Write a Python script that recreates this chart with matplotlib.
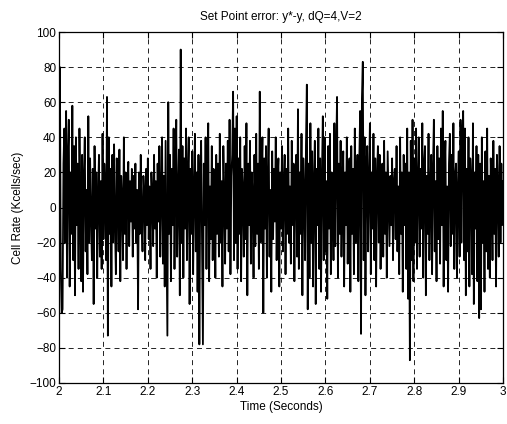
import numpy as np
import matplotlib.pyplot as plt

plt.rcParams['font.family'] = ['Liberation Sans', 'DejaVu Sans']

# set point error samples (2 ms spacing)
err = [
    12, 80, -35, -60, -58, 25, 45, -20, 55, -40, 30, 50, -45, 20, -15, 58, -30, 35, -50, 40,
    -10, 25, -35, 45, 5, -42, 30, -48, 18, 40, -25, 10, -38, 52, -20, 28, -5, -30, 22, -55,
    35, -12, 20, -40, 8, 30, -28, 15, -35, 42, -18, 25, 10, -30, 63, -73, 40, -15, 22, -45,
    30, -20, 36, -10, -38, 28, 12, -25, 33, -42, 18, 5, -30, 40, -15, 20, -35, 10, 26, -22,
    15, -8, 22, -28, 18, -12, 25, -20, 10, -58, 20, -15, 30, -5, -25, 18, 8, -30, 22, -10,
    28, -18, 12, -35, 20, 5, -22, 30, -12, 15, -40, 25, -8, 35, -28, 10, 40, -32, 18, -45,
    38, -20, -73, 60, -15, 30, -42, 22, -10, 45, -35, 15, 50, -28, 8, 33, -50, 90, -20, 35,
    -40, 28, -12, 45, -30, 18, 40, -55, 22, -15, 32, -38, 10, 42, -25, 20, -48, 30, -78, 15,
    38, -22, -78, 25, -10, 40, -35, 20, 48, -42, 12, -18, 35, -30, 22, 5, -40, 30, -15, 25,
    -28, 42, -20, 15, -45, 35, 8, -32, 25, -12, 38, -25, 50, -38, 18, 30, 66, -30, 45, -20,
    52, -35, 28, -15, 40, -42, 22, 10, -28, 35, -18, 48, -50, 25, -10, 38, -32, 20, 5, -40,
    30, -22, 42, -15, 25, -35, 66, -20, 15, 40, -60, 28, -12, 35, -40, 18, 45, -28, 10, -48,
    32, -18, 22, -8, 40, -30, 15, 28, -45, 20, -12, 35, -25, 10, 30, -38, 22, -15, 45, -20,
    12, -32, 38, -10, 25, -42, 18, 30, -28, 56, -35, 20, -15, 42, -50, 28, 8, -30, 35, 70,
    -58, 25, -40, 48, -20, 32, -45, 15, 38, -55, 22, -10, 45, -35, 28, -48, 18, 52, -30, 40,
    -25, 15, -52, 35, -12, 42, -38, 20, 8, -30, 48, -22, 30, 63, -40, 25, -15, 38, -28, 12,
    32, -45, 20, -10, 40, -32, 18, 28, -48, 35, -15, 22, -38, 45, -20, 10, 30, -42, 25, 55,
    -72, 62, 83, -30, 40, -50, 22, 35, -25, 15, 48, -38, 20, -12, 42, -30, 28, -45, 18, 35,
    -20, 30, -35, 10, 25, -28, 38, -15, 20, -40, 32, 5, -22, 18, -10, 28, -30, 15, 22, -18,
    35, -25, 12, -38, 40, -15, 20, -48, 30, -10, 25, -35, 45, -52, 20, -87, 38, -30, 50, -42,
    28, -20, 45, -35, 15, 40, -28, 22, -12, 48, -40, 25, 35, -50, 18, -15, 42, -30, 10, 30,
    -38, 22, 50, -25, 15, -42, 35, -18, 28, -32, 45, -10, 55, -45, 20, 38, -30, 12, -48, 25,
    42, -22, 30, -15, 48, -35, 18, 25, -40, 10, 32, -28, 50, -20, 38, 55, -30, 45, -50, 22,
    -25, 40, -45, 28, 15, -38, 48, -55, 20, -12, 35, -42, 30, -63, 25, -58, 40, -20, 15, -48,
    32, -25, 45, -35, 18, -40, 28, 10, -30, 38, -15, 22, -45, 30, 12, -28, 35, -20, 25, -10,
    15,
]
t = 2 + 0.002 * np.arange(len(err))

xticks = np.round(np.arange(2, 3.01, 0.1), 1)
xlabels = ['2', '2.1', '2.2', '2.3', '2.4', '2.5', '2.6', '2.7', '2.8', '2.9', '3']
yticks = np.arange(-100, 101, 20)

fig = plt.figure(figsize=(5.07, 4.24), dpi=100)
ax = fig.add_axes([0.1164, 0.0967, 0.876, 0.8278])
ax.plot(t, err, color='black', linewidth=1.3)

ax.set_xlim(2, 3)
ax.set_ylim(-100, 100)
ax.set_xticks(xticks)
ax.set_xticklabels(xlabels)
ax.set_yticks(yticks)
ax.tick_params(direction='in', length=4, labelsize=8.5, top=True, right=True, pad=2)
ax.grid(True, color='black', linestyle=(0, (6, 5)), linewidth=0.6)
for s in ax.spines.values():
    s.set_linewidth(0.9)

ax.set_title('Set Point error: y*-y, dQ=4,V=2', fontsize=8.5, pad=9)
ax.set_xlabel('Time (Seconds)', fontsize=8.5, labelpad=2)
ax.set_ylabel('Cell Rate (Kcells/sec)', fontsize=8.5, labelpad=4)

fig.savefig('out.png', dpi=100)
